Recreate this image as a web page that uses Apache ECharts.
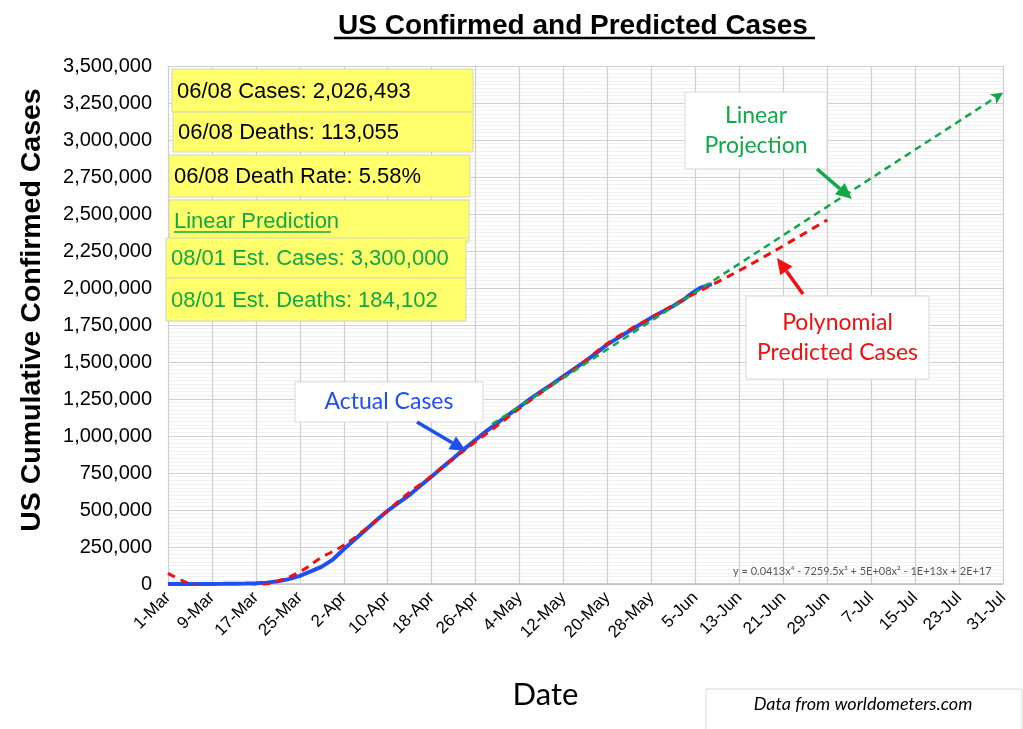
<!DOCTYPE html>
<html>
<head>
<meta charset="utf-8">
<title>US Confirmed and Predicted Cases</title>
<script src="https://cdn.jsdelivr.net/npm/echarts/dist/echarts.min.js"></script>
<style>
  html, body { margin: 0; padding: 0; background: #fff; }
  #chart { width: 1023px; height: 729px; }
</style>
</head>
<body>
<div id="chart"></div>
<script>
// x axis: days since 1-Mar, one tick label every 8 days
const xLabels = ['1-Mar', '9-Mar', '17-Mar', '25-Mar', '2-Apr', '10-Apr', '18-Apr', '26-Apr',
    '4-May', '12-May', '20-May', '28-May', '5-Jun', '13-Jun', '21-Jun', '29-Jun',
    '7-Jul', '15-Jul', '23-Jul', '31-Jul'];

// Actual cases
const actualDays = [0, 2, 4, 6, 8, 10, 12, 14, 16, 18, 20, 22, 24, 26, 28, 30, 32, 34, 36, 38,
    40, 42, 44, 46, 48, 50, 52, 54, 56, 58, 60, 62, 64, 66, 68, 70, 72, 74, 76, 78,
    80, 82, 84, 86, 88, 90, 92, 93, 94, 95, 96, 97, 98, 99];
const actualCases = [100, 120, 220, 320, 540, 990, 1630, 2800, 4600, 9200, 19000, 33000, 55000, 85000, 117000, 165000, 235000, 300000, 366000, 432000,
    495000, 550000, 603000, 665000, 727000, 790000, 851000, 915000, 975000, 1035000, 1089000, 1145000, 1197000, 1252000, 1303000, 1352000, 1404000, 1455000, 1506000, 1562000,
    1619000, 1665000, 1709000, 1755000, 1800000, 1840000, 1879000, 1902000, 1924000, 1955000, 1980000, 2003000, 2015000, 2026493];

// Polynomial trend (red dashed), goes below 0 early on and is clipped
const polyDays = [0, 2, 4, 8, 12, 16, 20, 24, 28, 32, 36, 40, 44, 48, 52, 56, 60, 64, 68, 72,
    76, 80, 84, 88, 92, 96, 100, 104, 108, 112, 116, 120];
const polyCases = [72000, 34000, 2000, -35000, -38000, -15000, 20000, 83000, 180000, 262000, 372000, 497000, 620000, 730000, 848000, 962000,
    1072000, 1187000, 1295000, 1400000, 1510000, 1625000, 1718000, 1800000, 1885000, 1965000, 2040000, 2118000, 2200000, 2285000, 2372000, 2460000];

// Linear projection (green dashed)
const linearDays = [59, 152];
const linearCases = [1080000, 3320000];

const chart = echarts.init(document.getElementById('chart'));

function pairs(xs, ys) {
    return xs.map((x, i) => [x, ys[i]]);
}

function arrow(x1, y1, x2, y2, color, w) {
    const a = Math.atan2(y2 - y1, x2 - x1);
    const L = 16, H = 7.5;
    const bx = x2 - L * Math.cos(a), by = y2 - L * Math.sin(a);
    return [{
        type: 'line', z: 100,
        shape: { x1: x1, y1: y1, x2: bx, y2: by },
        style: { stroke: color, lineWidth: w }
    }, {
        type: 'polygon', z: 100,
        shape: { points: [[x2, y2], [bx + H * Math.sin(a), by - H * Math.cos(a)], [bx - H * Math.sin(a), by + H * Math.cos(a)]] },
        style: { fill: color }
    }];
}

const GREEN = '#12A84A';
const RED = '#F01010';
const BLUE = '#1F4FF0';

// yellow info boxes top-left
const infoBoxes = [
    { x: 172, y: 69, w: 301, h: 43, text: '06/08 Cases: 2,026,493', color: '#000' },
    { x: 173, y: 112, w: 300, h: 40, text: '06/08 Deaths: 113,055', color: '#000' },
    { x: 169, y: 155, w: 301, h: 42, text: '06/08 Death Rate: 5.58%', color: '#000' },
    { x: 169, y: 200, w: 300, h: 42, text: 'Linear Prediction', color: GREEN, underline: true },
    { x: 166, y: 238, w: 300, h: 40, text: '08/01 Est. Cases: 3,300,000', color: GREEN },
    { x: 166, y: 278, w: 300, h: 43, text: '08/01 Est. Deaths: 184,102', color: GREEN }
];

let graphics = [];
infoBoxes.forEach(function(b) {
    graphics.push({
        type: 'rect', z: 90,
        shape: { x: b.x, y: b.y, width: b.w, height: b.h },
        style: { fill: '#FFFF6B', stroke: '#d6d6c0', lineWidth: 1 }
    });
    graphics.push({
        type: 'text', z: 91,
        x: b.x + 5, y: b.y + b.h / 2 + 1,
        style: { text: b.text, fill: b.color, font: '22px "Liberation Sans", Arial', verticalAlign: 'middle' }
    });
    if (b.underline) {
        graphics.push({
            type: 'line', z: 91,
            shape: { x1: b.x + 5, y1: b.y + 32, x2: b.x + 162, y2: b.y + 32 },
            style: { stroke: b.color, lineWidth: 1.5 }
        });
    }
});

// white callouts
const callouts = [
    { x: 685, y: 92, w: 142, h: 77, text: 'Linear\nProjection', color: GREEN },
    { x: 746, y: 296, w: 183, h: 83, text: 'Polynomial\nPredicted Cases', color: RED },
    { x: 295, y: 382, w: 188, h: 40, text: 'Actual Cases', color: BLUE }
];
callouts.forEach(function(c) {
    graphics.push({
        type: 'rect', z: 90,
        shape: { x: c.x, y: c.y, width: c.w, height: c.h },
        style: { fill: '#fff', stroke: '#d9d9d9', lineWidth: 1 }
    });
    graphics.push({
        type: 'text', z: 91,
        x: c.x + c.w / 2, y: c.y + c.h / 2,
        style: { text: c.text, fill: c.color, font: '23px Lato, "Noto Sans"', align: 'center', verticalAlign: 'middle', lineHeight: 30 }
    });
});

graphics = graphics.concat(arrow(417, 422, 466, 451, BLUE, 3.5));
graphics = graphics.concat(arrow(817, 169, 852, 199, GREEN, 3.5));
graphics = graphics.concat(arrow(803, 294, 777, 258, RED, 3.5));

// title underline
graphics.push({
    type: 'line', z: 95,
    shape: { x1: 334, y1: 38, x2: 815, y2: 38 },
    style: { stroke: '#000', lineWidth: 2.5 }
});

// trendline equation
graphics.push({
    type: 'text', z: 91,
    x: 733, y: 571,
    style: { text: 'y = 0.0413x\u2074 - 7259.5x\u00b3 + 5E+08x\u00b2 - 1E+13x + 2E+17', fill: '#595959', font: '11px Lato, "Noto Sans"', verticalAlign: 'middle' }
});

// source box
graphics.push({
    type: 'rect', z: 90,
    shape: { x: 706, y: 689, width: 316, height: 50 },
    style: { fill: '#fff', stroke: '#d9d9d9', lineWidth: 1 }
});
graphics.push({
    type: 'text', z: 91,
    x: 863, y: 704,
    style: { text: 'Data from worldometers.com', fill: '#000', font: 'italic 18px Lato, "Noto Sans"', align: 'center', verticalAlign: 'middle' }
});

chart.setOption({
    backgroundColor: '#fff',
    animation: false,
    title: {
        text: 'US Confirmed and Predicted Cases',
        left: 333,
        top: 7,
        textStyle: { fontSize: 28, fontWeight: 'bold', fontFamily: '"Liberation Sans", Arial', color: '#000' }
    },
    grid: {
        left: 168,
        right: 20,
        top: 66,
        bottom: 145,
        outerBoundsMode: 'none'
    },
    xAxis: {
        type: 'value',
        min: 0,
        max: 152,
        interval: 8,
        name: 'Date',
        nameLocation: 'middle',
        nameGap: 95,
        nameTextStyle: { fontSize: 31, fontFamily: 'Lato, "Noto Sans"', color: '#000', padding: [0, 80, 0, 0] },
        axisLine: { show: true, lineStyle: { color: '#bfbfbf', width: 1.5 } },
        axisTick: { show: false },
        axisLabel: {
            rotate: 45,
            margin: 11,
            showMinLabel: true,
            showMaxLabel: true,
            fontSize: 17,
            fontFamily: '"Liberation Sans", Arial',
            color: '#000',
            formatter: function(v) { return xLabels[Math.round(v / 8)] || ''; }
        },
        splitLine: { show: true, lineStyle: { color: '#cfcfcf', width: 1.2 } }
    },
    yAxis: {
        type: 'value',
        min: 0,
        max: 3500000,
        interval: 250000,
        name: 'US Cumulative Confirmed Cases',
        nameLocation: 'middle',
        nameRotate: 90,
        nameGap: 121,
        nameTextStyle: { fontSize: 28.5, fontWeight: 'bold', fontFamily: '"Liberation Sans", Arial', color: '#000', padding: [0, 0, 0, 30] },
        axisLine: { show: false },
        axisTick: { show: false },
        axisLabel: {
            margin: 16,
            fontSize: 20,
            fontFamily: '"Liberation Sans", Arial',
            color: '#000',
            showMinLabel: true,
            showMaxLabel: true,
            formatter: function(v) { return v.toLocaleString('en-US'); }
        },
        splitLine: { show: true, lineStyle: { color: '#cfcfcf', width: 1.2 } },
        minorTick: { show: false, splitNumber: 10 },
        minorSplitLine: { show: true, lineStyle: { color: '#f1f1f1', width: 1 } }
    },
    series: [{
        name: 'Actual Cases',
        type: 'line',
        data: pairs(actualDays, actualCases),
        symbol: 'none',
        lineStyle: { color: BLUE, width: 4 },
        z: 3
    }, {
        name: 'Polynomial Predicted Cases',
        type: 'line',
        data: pairs(polyDays, polyCases),
        symbol: 'none',
        smooth: true,
        clip: true,
        lineStyle: { color: RED, width: 3, type: [8, 6] },
        z: 4
    }, {
        name: 'Linear Projection',
        type: 'line',
        data: [
            [linearDays[0], linearCases[0]],
            { value: [linearDays[1], linearCases[1]], symbol: 'arrow', symbolSize: [9, 12], symbolRotate: -57, itemStyle: { color: GREEN } }
        ],
        symbol: 'none',
        showSymbol: true,
        lineStyle: { color: GREEN, width: 2.5, type: [7, 5] },
        itemStyle: { color: GREEN },
        z: 5
    }],
    graphic: graphics
});
</script>
</body>
</html>
